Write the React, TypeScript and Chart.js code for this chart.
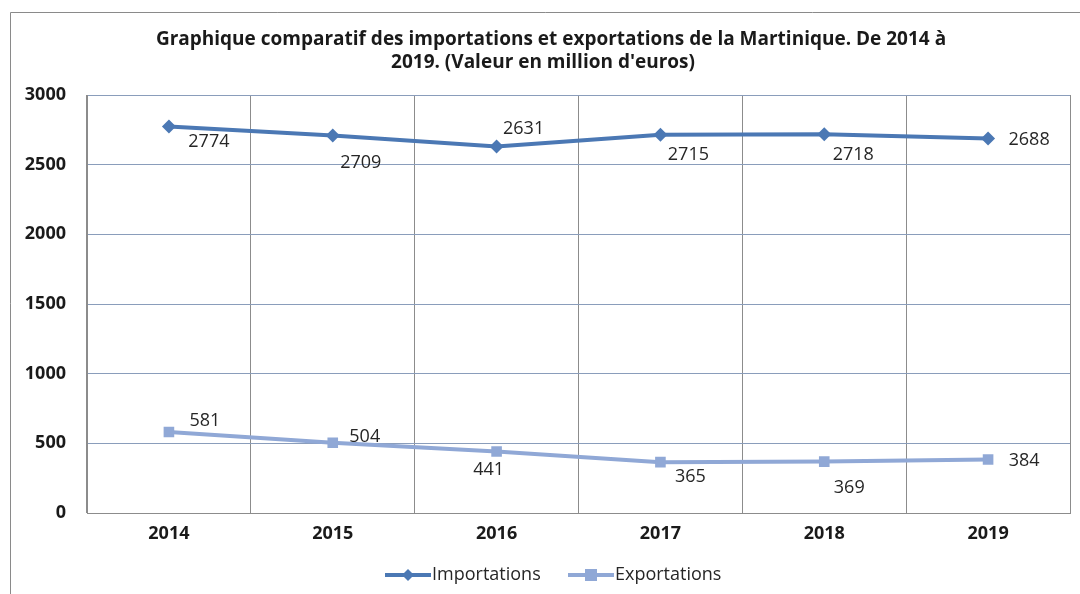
import React, { useEffect, useRef } from "react";
import { Chart, registerables } from "chart.js";

Chart.register(...registerables);

const years = ["2014", "2015", "2016", "2017", "2018", "2019"];
const importations = [2774, 2709, 2631, 2715, 2718, 2688];
const exportations = [581, 504, 441, 365, 369, 384];
const yTicks = [0, 500, 1000, 1500, 2000, 2500, 3000];
const titleLines = [
  "Graphique comparatif des importations et exportations de la Martinique. De 2014 à",
  "2019. (Valeur en million d'euros)",
];

// label offsets (px) relative to the point, per series
const importOffsets = [[40, 15], [28, 27], [27, -18], [28, 20], [29, 21], [41, 1]];
const exportOffsets = [[36, -11], [32, -6], [-8, 18], [30, 15], [25, 26], [36, 1]];

const IMP_COLOR = "#4B78B4";
const EXP_COLOR = "#90A8D6";
const FONT = "'Open Sans', 'Noto Sans', sans-serif";

const decorPlugin = {
  id: "decor",
  beforeDraw(chart: any) {
    const ctx = chart.ctx;
    ctx.save();
    ctx.fillStyle = "#ffffff";
    ctx.fillRect(0, 0, chart.width, chart.height);
    ctx.strokeStyle = "#8a8a8a";
    ctx.lineWidth = 1;
    ctx.beginPath();
    ctx.moveTo(10.5, chart.height);
    ctx.lineTo(10.5, 12.5);
    ctx.lineTo(chart.width, 12.5);
    ctx.stroke();
    ctx.restore();
  },
  afterDraw(chart: any) {
    const ctx = chart.ctx;
    ctx.save();
    // title
    ctx.fillStyle = "#1a1a1a";
    ctx.font = `bold 19px ${FONT}`;
    ctx.textAlign = "center";
    ctx.textBaseline = "middle";
    ctx.fillText(titleLines[0], 551, 40);
    ctx.fillText(titleLines[1], 543, 63);

    // data labels
    ctx.font = `18px ${FONT}`;
    ctx.fillStyle = "#262626";
    const offs = [importOffsets, exportOffsets];
    chart.data.datasets.forEach((ds: any, di: number) => {
      const meta = chart.getDatasetMeta(di);
      meta.data.forEach((pt: any, i: number) => {
        const [dx, dy] = offs[di][i];
        ctx.fillText(String(ds.data[i]), pt.x + dx, pt.y + dy);
      });
    });

    // legend
    const items = [
      { label: chart.data.datasets[0].label, color: IMP_COLOR, style: "diamond", x: 385 },
      { label: chart.data.datasets[1].label, color: EXP_COLOR, style: "square", x: 568 },
    ];
    const ly = 575;
    items.forEach((it) => {
      ctx.strokeStyle = it.color;
      ctx.lineWidth = 4;
      ctx.beginPath();
      ctx.moveTo(it.x, ly);
      ctx.lineTo(it.x + 46, ly);
      ctx.stroke();
      ctx.fillStyle = it.color;
      const cx = it.x + 23;
      if (it.style === "diamond") {
        ctx.beginPath();
        ctx.moveTo(cx, ly - 6);
        ctx.lineTo(cx + 6, ly);
        ctx.lineTo(cx, ly + 6);
        ctx.lineTo(cx - 6, ly);
        ctx.closePath();
        ctx.fill();
      } else {
        ctx.fillRect(cx - 6, ly - 6, 12, 12);
      }
      ctx.fillStyle = "#262626";
      ctx.font = `18px ${FONT}`;
      ctx.textAlign = "left";
      ctx.fillText(it.label, it.x + 47, ly);
    });
    ctx.restore();
  },
};

export default function App() {
  const ref = useRef<HTMLCanvasElement>(null);
  useEffect(() => {
    if (!ref.current) return;
    const chart = new Chart(ref.current, {
      type: "line",
      data: {
        labels: years,
        datasets: [
          {
            label: "Importations",
            data: importations,
            borderColor: IMP_COLOR,
            backgroundColor: IMP_COLOR,
            borderWidth: 4,
            pointStyle: "rectRot",
            pointRadius: 7,
            pointBorderWidth: 0,
            tension: 0,
          },
          {
            label: "Exportations",
            data: exportations,
            borderColor: EXP_COLOR,
            backgroundColor: EXP_COLOR,
            borderWidth: 4,
            pointStyle: "rect",
            pointRadius: 7.5,
            pointBorderWidth: 0,
            tension: 0,
          },
        ],
      },
      options: {
        responsive: false,
        animation: false,
        devicePixelRatio: 1,
        layout: { padding: { left: 0, right: 10, top: 95, bottom: 0 } },
        plugins: {
          legend: { display: false },
          title: { display: false },
          tooltip: { enabled: false },
        },
        scales: {
          x: {
            type: "category",
            offset: true,
            grid: { offset: true, color: "#8c8c8c", lineWidth: 1, drawTicks: false },
            border: { color: "#8c8c8c" },
            ticks: {
              padding: 10,
              color: "#1a1a1a",
              font: { family: FONT, size: 18, weight: "bold" },
              maxRotation: 0,
            },
            afterFit(axis: any) {
              axis.height = 81;
            },
          },
          y: {
            min: 0,
            max: 3000,
            afterBuildTicks(axis: any) {
              axis.ticks = yTicks.map((v) => ({ value: v }));
            },
            grid: { color: "#8a9dbb", lineWidth: 1, drawTicks: false },
            border: { color: "#8c8c8c" },
            ticks: {
              padding: 21,
              color: "#1a1a1a",
              font: { family: FONT, size: 18, weight: "bold" },
              callback: (v: any) => String(v),
            },
            afterFit(axis: any) {
              axis.width = 87;
            },
          },
        },
      },
      plugins: [decorPlugin],
    } as any);
    return () => chart.destroy();
  }, []);
  return (
    <canvas
      ref={ref}
      width={1080}
      height={594}
      style={{ position: "absolute", left: 0, top: 0, width: 1080, height: 594 }}
    />
  );
}
